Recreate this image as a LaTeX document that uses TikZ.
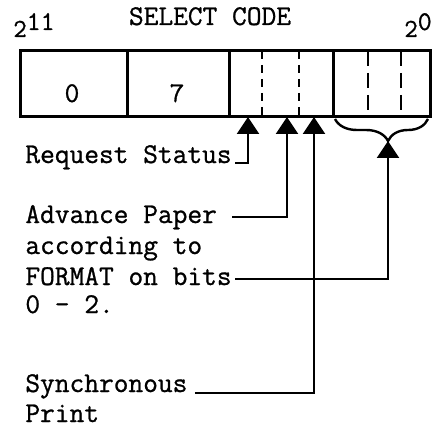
\documentclass[tikz,border=0pt]{standalone}
\usepackage{fontspec}
\newfontfamily\typer{Latin Modern Mono}[FakeBold=0.9]
\usepackage{tikz}
\usetikzlibrary{arrows.meta,calc,decorations.pathreplacing}

\begin{document}
\begin{tikzpicture}[
  x=0.5pt, y=-0.5pt,
  font=\fontsize{14.3}{16}\selectfont\typer,
  lbl/.style={anchor=base west, inner sep=0pt},
  arr/.style={-{Triangle[width=11pt,length=8.5pt]}, line width=1.2pt},
  wall/.style={line width=1.5pt},
  bitline/.style={line width=1.4pt, dash pattern=on 4pt off 3pt},
  fmtline/.style={line width=1.1pt, dash pattern=on 7.5pt off 3.5pt}
]
\useasboundingbox (0,0) rectangle (443,427);

% Heading
\node[anchor=base, inner sep=0pt] (title) at (210,25) {SELECT CODE};
\node[lbl] (msb) at (13,37) {\fontsize{13}{14}\selectfont 2\raisebox{3.5pt}{\fontsize{13.5}{14}\selectfont 11}};
\node[lbl] (lsb) at (404,37) {\fontsize{13}{14}\selectfont 2\raisebox{3.5pt}{\fontsize{13.5}{14}\selectfont 0}};

% Register
\draw[wall] (20,51) rectangle (430,117);
\foreach \x in {127,229,333} {
  \draw[wall] (\x,51) -- (\x,117);
}
\foreach \x in {262,299} {
  \draw[bitline] (\x,51) -- (\x,117);
}
\foreach \x in {368,401} {
  \draw[fmtline] (\x,51) -- (\x,117);
}
\node[anchor=base, inner sep=0pt] (f0) at (72,102) {0};
\node[anchor=base, inner sep=0pt] (f7) at (177,102) {7};

% Bit positions under the register
\coordinate (b1) at (248,117);
\coordinate (b2) at (287,117);
\coordinate (b3) at (314,117);
\draw[line width=1.2pt, decorate, decoration={brace, amplitude=11pt, aspect=0.43}]
  (428,119) -- (335,119);
\coordinate (tip) at (388,141);

% Labels
\node[lbl] (rs) at (25,163) {Request Status};
\node[lbl] (adv) at (25,223) {Advance Paper};
\node[lbl] (acc) at (25,254) {according to};
\node[lbl] (fmt) at (25,285) {FORMAT on bits};
\node[lbl] (bits) at (25,313) {0 - 2.};
\node[lbl] (sync) at (25,392) {Synchronous};
\node[lbl] (prnt) at (25,422) {Print};

% Leaders
\draw[arr] ($(rs.base east)+(3,0)$) -| (b1);
\draw[arr] ($(adv.base east)+(15,-6)$) -| (b2);
\draw[arr] ($(sync.base east)+(7,1)$) -| (b3);
\draw[arr] ($(fmt.base east)+(3,-6)$) -| (tip);

\end{tikzpicture}
\end{document}
